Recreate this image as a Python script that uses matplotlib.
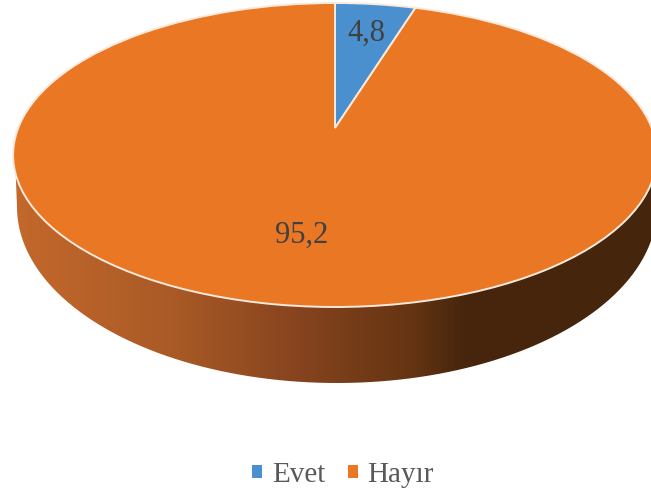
import numpy as np
import matplotlib
matplotlib.use("Agg")
import matplotlib.pyplot as plt
from matplotlib.colors import LinearSegmentedColormap
from matplotlib.patches import Patch, PathPatch
from matplotlib.path import Path
from matplotlib.transforms import Transform

labels = ["Evet", "Hayır"]
values = [4.8, 95.2]

colors = ["#4A90CE", "#E97724"]
edge_color = "#FBE9DC"
side_colors = [(0.0, "#C4682C"), (0.25, "#A95A26"), (0.42, "#8A4620"),
               (0.62, "#653412"), (0.70, "#47260D"), (1.0, "#45250C")]

plt.rcParams["font.family"] = ["Liberation Serif", "DejaVu Serif"]


class TiltedDisc(Transform):
    """Project the unit circle of the pie onto the tilted top of the disc"""
    input_dims = 2
    output_dims = 2

    def transform_non_affine(self, xy):
        xy = np.asarray(xy, dtype=float)
        w = 1 + 0.1776 * xy[:, 1]
        return np.column_stack((335 + 316.8 * xy[:, 0] / w,
                                128 - 147.2 * xy[:, 1] / w))


def draw_side(ax):
    """Draw the side wall with its left to right shading"""
    t = np.linspace(0, np.pi, 200)
    x = 337 + 320 * np.cos(t)
    y = 207 + 176 * np.sin(t)
    # the wall runs up behind the top of the disc at both ends
    verts = np.vstack(([[657, 155]], np.column_stack((x, y)), [[15, 155], [657, 155]]))
    outline = PathPatch(Path(verts), transform=ax.transData,
                        facecolor="none", edgecolor="none")
    ax.add_patch(outline)
    cmap = LinearSegmentedColormap.from_list("side", side_colors)
    shade = ax.imshow(np.linspace(0, 1, 651)[np.newaxis, :], cmap=cmap, aspect="auto",
                      extent=(13, 657, 493, 0), zorder=1)
    shade.set_clip_path(outline)


def main():
    fig = plt.figure(figsize=(6.51, 4.93), dpi=100)
    ax = fig.add_axes([0, 0, 1, 1])

    wedges, _ = ax.pie(values, colors=colors, startangle=90, counterclock=False,
                       wedgeprops=dict(edgecolor=edge_color, linewidth=1.4))
    disc = TiltedDisc() + ax.transData
    for wedge in wedges:
        wedge.set_transform(disc)
        wedge.set_zorder(2)

    draw_side(ax)

    ax.set_aspect("auto")
    ax.set_xlim(0, 651)
    ax.set_ylim(493, 0)
    ax.axis("off")

    ax.text(366, 33, f"{values[0]}".replace(".", ","), fontsize=22, color="#404040",
            ha="center", va="center", zorder=3)
    ax.text(302, 235, f"{values[1]}".replace(".", ","), fontsize=22, color="#404040",
            ha="center", va="center", zorder=3)

    handles = [Patch(facecolor=c, edgecolor="none") for c in colors]
    ax.legend(handles, labels, loc="center", bbox_to_anchor=(343, 475),
              bbox_transform=ax.transData, ncol=2, frameon=False, fontsize=21,
              labelcolor="#595959", handlelength=0.34, handleheight=0.34,
              handletextpad=0.33, columnspacing=0.78)

    fig.savefig("out.png", dpi=100)


if __name__ == "__main__":
    main()
